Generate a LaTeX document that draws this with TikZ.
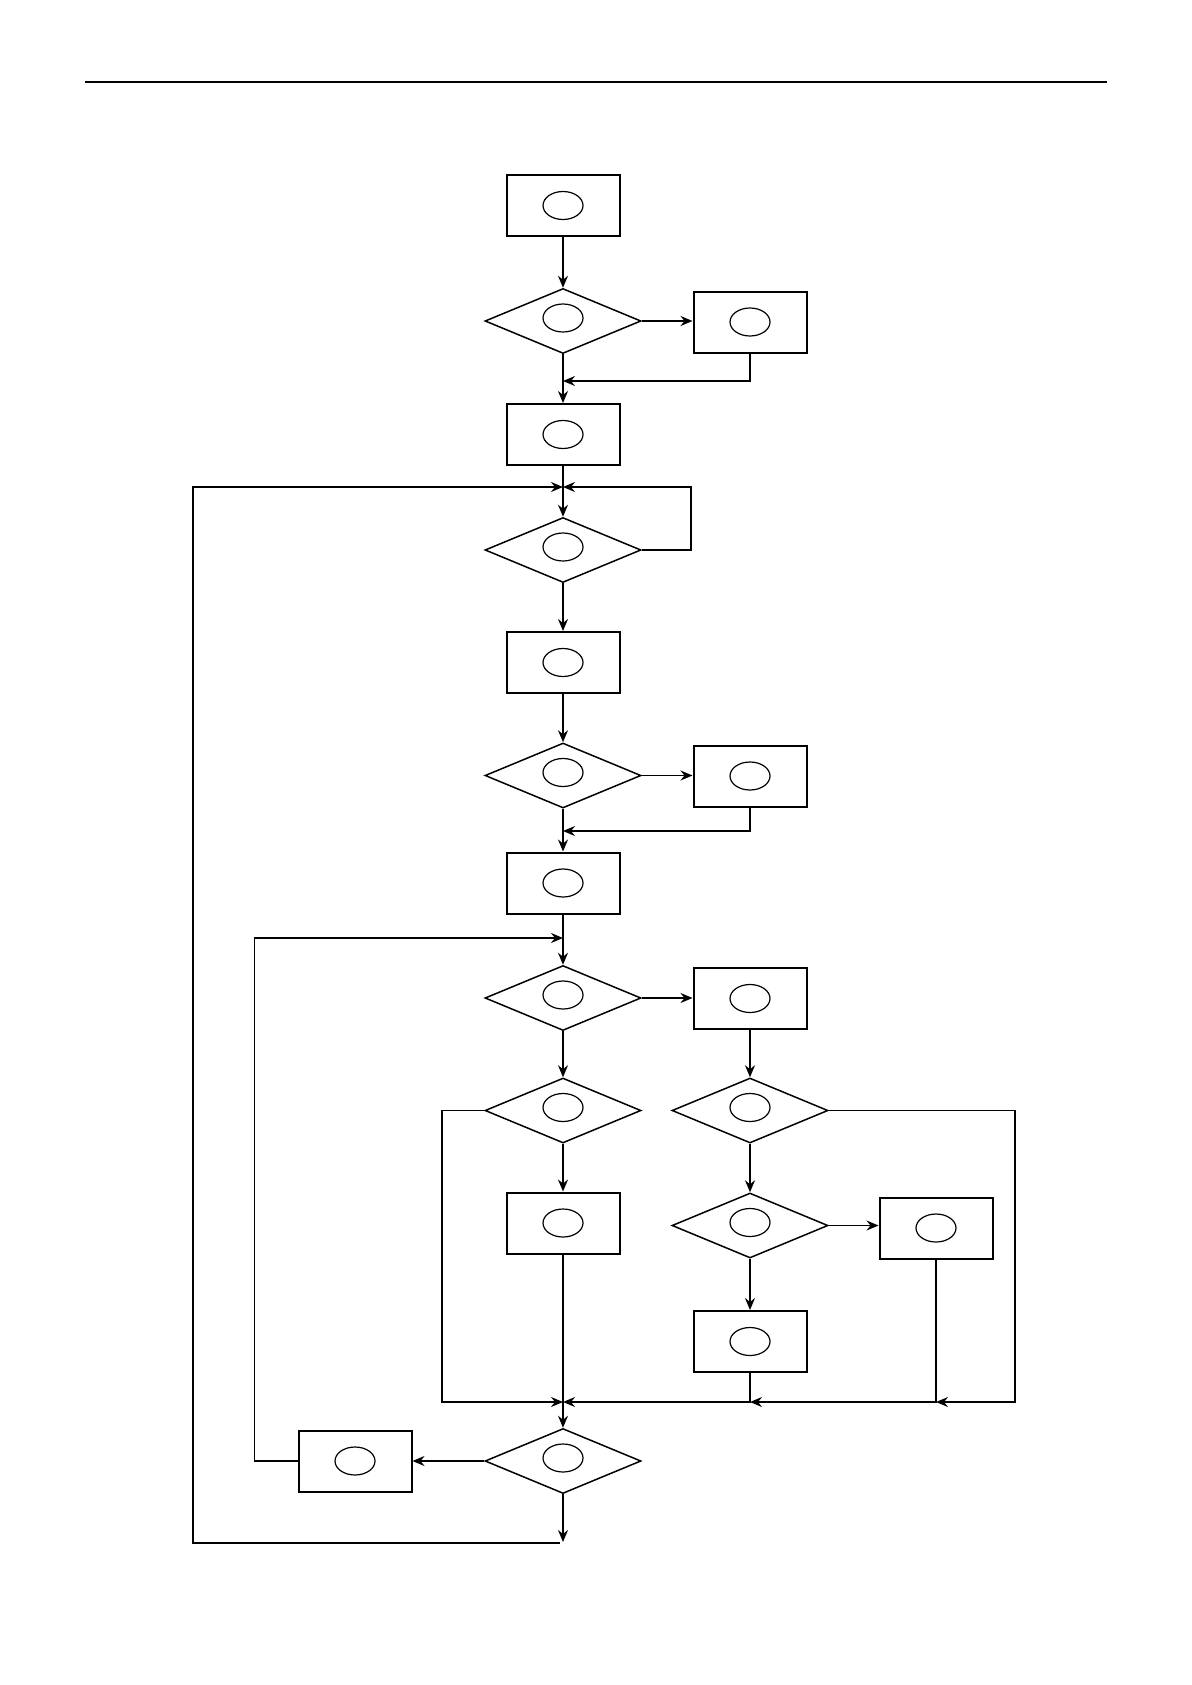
\documentclass[tikz,border=0pt]{standalone}
\usetikzlibrary{shapes.geometric,arrows.meta}
\begin{document}
\begin{tikzpicture}[x=0.5pt,y=-0.5pt,
  box/.style={draw, line width=1pt, minimum width=56.5pt, minimum height=30.5pt, inner sep=0pt,
    path picture={\draw[line width=0.6pt] (path picture bounding box.center) ellipse [x radius=10pt, y radius=7pt];}},
  dia/.style={draw, diamond, line width=0.75pt, minimum width=78pt, minimum height=32.5pt, inner sep=0pt,
    path picture={\draw[line width=0.6pt] ([yshift=1.5pt]path picture bounding box.center) ellipse [x radius=10pt, y radius=7pt];}},
  arr/.style={line width=0.75pt, -{Stealth[length=6pt,width=5pt,inset=2pt]}}]
\useasboundingbox (0,0) rectangle (1191,1685);
\fill[white] (0,0) rectangle (1191,1685);
\draw[line width=1.4pt] (85,82) -- (1107,82);
% nodes
\node[box] (B1) at (563,205.5) {};
\node[dia] (D1) at (563,321) {};
\node[box] (B2) at (750,322) {};
\node[box] (B3) at (563,434.5) {};
\node[dia] (D2) at (563,550) {};
\node[box] (B4) at (563,662.5) {};
\node[dia] (D3) at (563,775.5) {};
\node[box] (B5) at (750,776) {};
\node[box] (B6) at (563,883) {};
\node[dia] (D4) at (563,998) {};
\node[box] (B7) at (750,998.5) {};
\node[dia] (D6) at (563,1110.5) {};
\node[dia] (D5) at (750,1110.5) {};
\node[box] (B8) at (563,1223) {};
\node[dia] (D7) at (750,1225.5) {};
\node[box] (B9) at (936,1228) {};
\node[box] (B10) at (750,1341.5) {};
\node[dia] (D8) at (563,1461) {};
\node[box] (B11) at (355,1461) {};
% junction coordinates
\coordinate (M1) at (563,381);
\coordinate (J1) at (563,487);
\coordinate (M2) at (563,831);
\coordinate (J2) at (563,938);
\coordinate (J3) at (563,1402);
\coordinate (J3b) at (750,1402);
\coordinate (J3c) at (936,1402);
\coordinate (E) at (563,1542);
\coordinate (BL) at (560,1543);
% connectors
\draw[arr] (B1.south) -- (D1.north);
\draw[arr] (D1.east) -- (D1.east -| B2.west);
\draw[arr] (B2.south) |- (M1);
\draw[arr] (D1.south) -- (B3.north);
\draw[arr] (B3.south) -- (D2.north);
\draw[arr] (D2.east) -- ++(49,0) |- (J1);
\draw[arr] (BL) -- (193,1543) |- (J1);
\draw[arr] (D2.south) -- (B4.north);
\draw[arr] (B4.south) -- (D3.north);
\draw[arr] (D3.east) -- (D3.east -| B5.west);
\draw[arr] (B5.south) |- (M2);
\draw[arr] (D3.south) -- (B6.north);
\draw[arr] (B6.south) -- (D4.north);
\draw[arr] (B11.west) -- (254.5,1461) |- (J2);
\draw[arr] (D4.east) -- (D4.east -| B7.west);
\draw[arr] (B7.south) -- (D5.north);
\draw[arr] (D4.south) -- (D6.north);
\draw[arr] (D6.south) -- (B8.north);
\draw[arr] (D6.west) -- (442,1110.5) |- (J3);
\draw[arr] (B8.south) -- (D8.north);
\draw[arr] (D5.south) -- (D7.north);
\draw[arr] (D7.east) -- (D7.east -| B9.west);
\draw[arr] (D7.south) -- (B10.north);
\draw[arr] (B10.south) |- (J3);
\draw[arr] (B9.south) |- (J3b);
\draw[arr] (D5.east) -- (1015,1110.5) |- (J3c);
\draw[arr] (D8.west) -- (B11.east);
\draw[arr] (D8.south) -- (E);
\end{tikzpicture}
\end{document}
